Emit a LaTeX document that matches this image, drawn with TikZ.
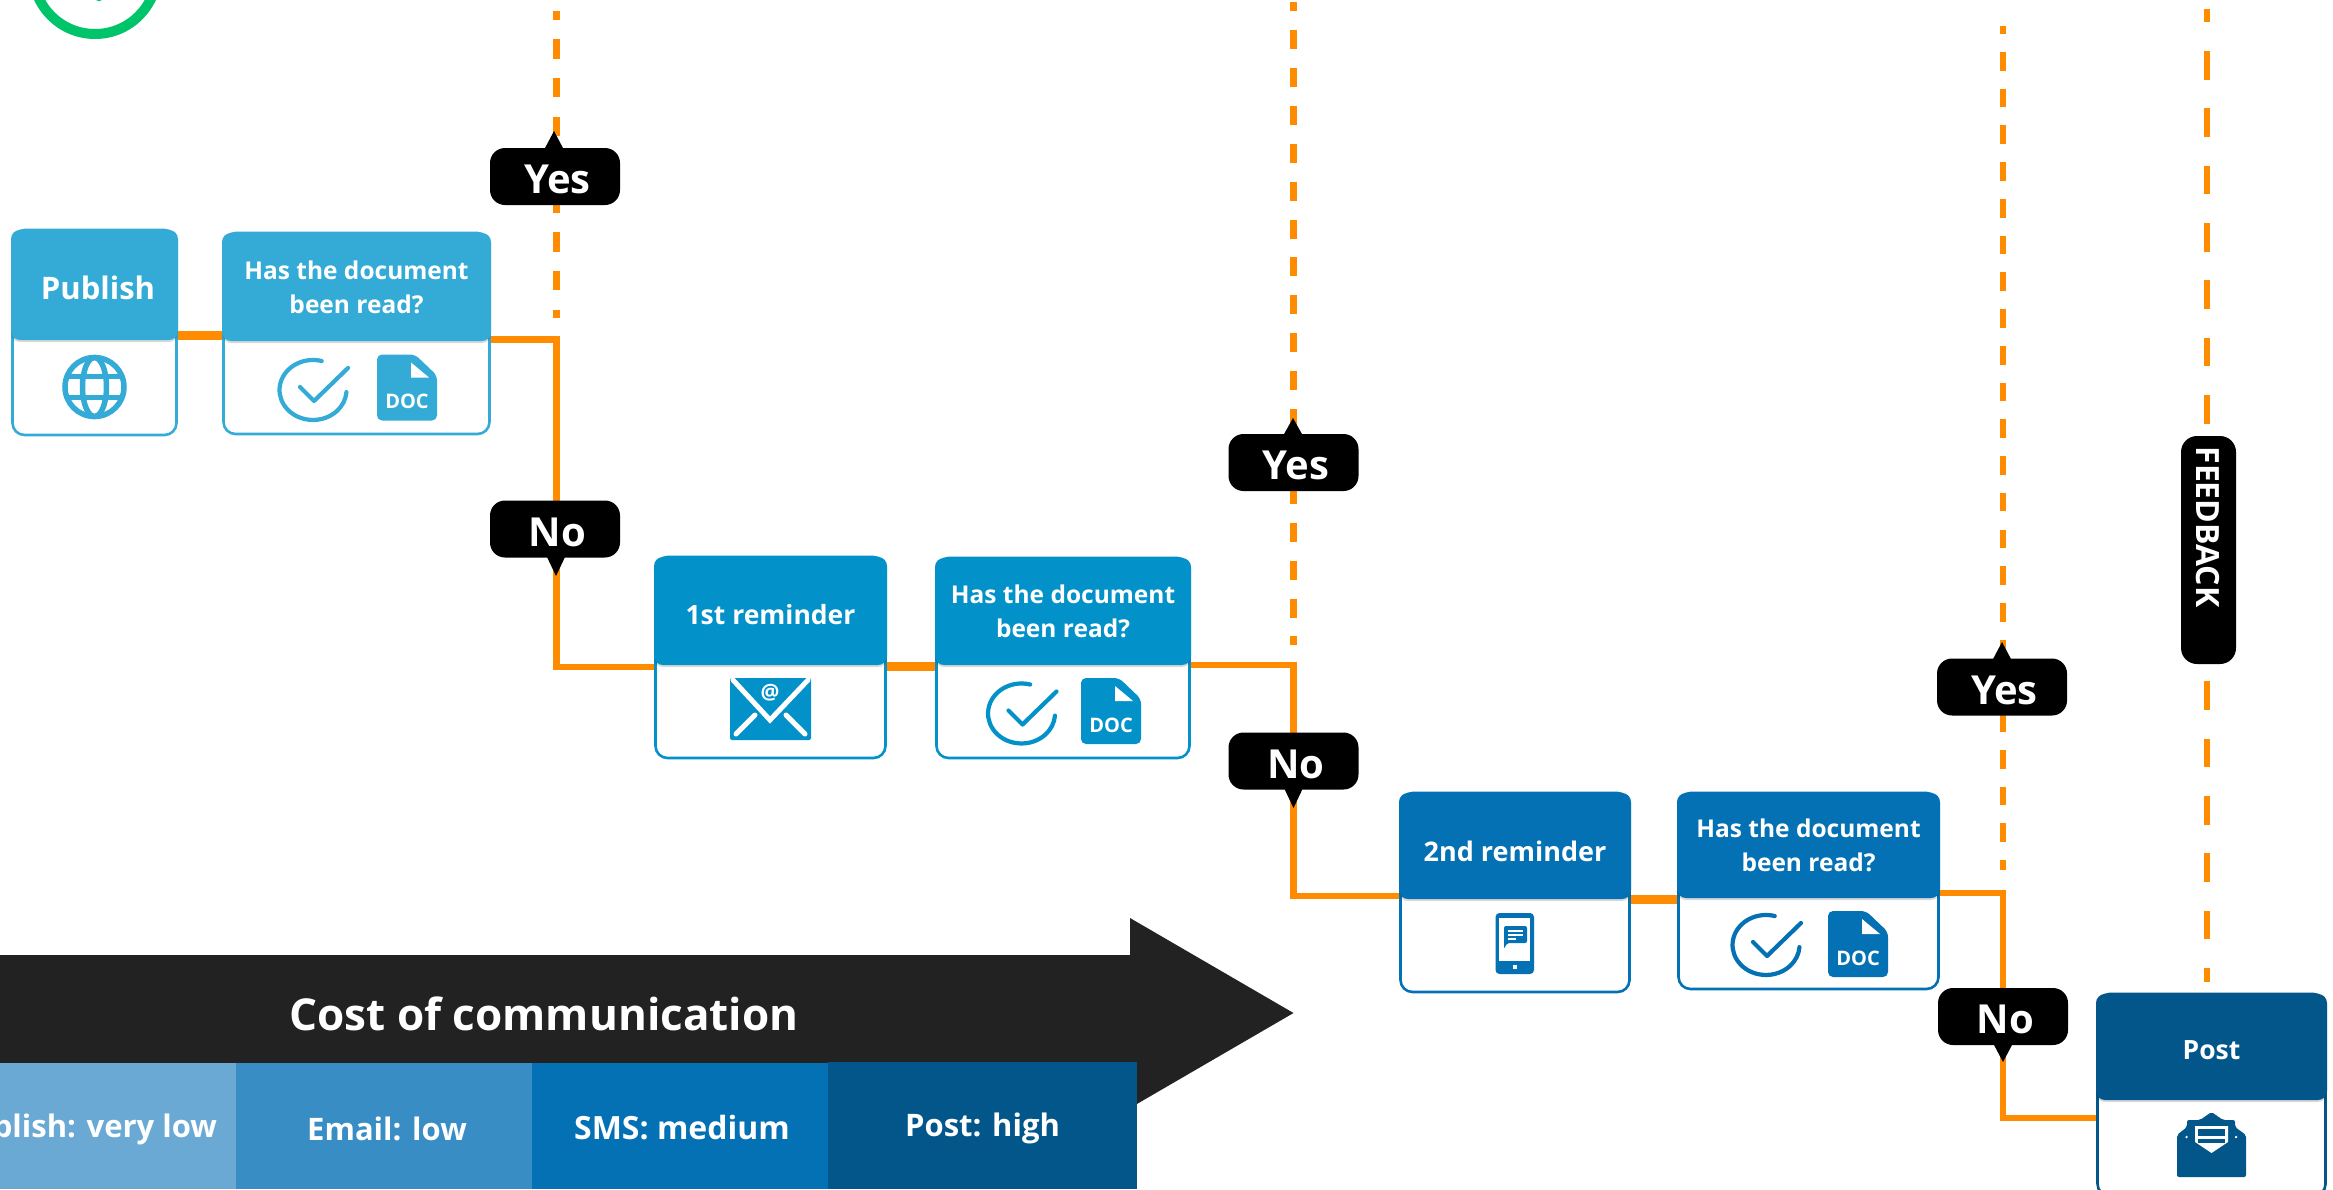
\documentclass[tikz,border=0pt]{standalone}
\usepackage{fontspec}
\setmainfont{Open Sans}
\usetikzlibrary{shadows,backgrounds}
\definecolor{cPub}{HTML}{34ABD7}
\definecolor{cFst}{HTML}{0391C9}
\definecolor{cSnd}{HTML}{0471B4}
\definecolor{cPost}{HTML}{03568A}
\definecolor{cOrange}{HTML}{FF8C00}
\definecolor{cDark}{HTML}{222222}
\definecolor{cGreen}{HTML}{00C46A}
\definecolor{cBarA}{HTML}{6BA9D5}
\definecolor{cBarB}{HTML}{378DC4}
\tikzset{
  bodybox/.style={rectangle,rounded corners=12pt,fill=white,line width=2.6pt,inner sep=0pt,outer sep=0pt},
  headbox/.style={rectangle,rounded corners=9pt,inner sep=0pt,outer sep=0pt,text=white,align=center,
    drop shadow={shadow xshift=0pt,shadow yshift=-2pt,opacity=.15,fill=black}},
  tagbox/.style={rectangle,rounded corners=15pt,fill=black,text=white,inner sep=0pt,outer sep=0pt,
    minimum width=130pt,minimum height=57pt,font=\fontsize{40}{46}\selectfont\bfseries},
  barbox/.style={rectangle,inner sep=0pt,outer sep=0pt,text=white,font=\fontsize{31}{38}\selectfont\bfseries},
  link/.style={draw=cOrange,line width=6.8pt},
  thicklink/.style={draw=cOrange,line width=9pt},
  dashA/.style={draw=cOrange,line width=7pt,dash pattern=on 19.2pt off 19.4pt,dash phase=10.3pt},
  dashB/.style={draw=cOrange,line width=7pt,dash pattern=on 19pt off 18.9pt,dash phase=9.9pt},
  dashC/.style={draw=cOrange,line width=6.5pt,dash pattern=on 18.7pt off 18.03pt,dash phase=10.7pt},
  dashD/.style={draw=cOrange,line width=6.5pt,dash pattern=on 28.7pt off 28.6pt,dash phase=15.3pt},
}
% name, x0, y0, yh, x1, y1, colour, font size, text
\newcommand{\stagebox}[9]{%
  \node[bodybox,draw=#7,minimum width={(#5-#2-3)*1pt},minimum height={(#6-#3)*1pt}] (#1b) at ({(#2+#5)/2},{(#3+#6)/2}) {};
  \node[headbox,fill=#7,minimum width={(#5-#2)*1pt},minimum height={(#4-#3)*1pt},font=\fontsize{#8}{34}\selectfont\bfseries] (#1) at ({(#2+#5)/2},{(#3+#4)/2}) {#9};
}
\newcommand{\ringicon}[3]{%
  \begin{scope}[shift={(#1,#2)}]
    \draw[#3,line width=4.2pt,line cap=round] (8.7,-29) arc[start angle=75,end angle=356,x radius=33.5pt,y radius=30pt];
    \draw[#3,line width=4.2pt,line cap=round,line join=round] (-13,-3) -- (1,11) -- (35,-22);
  \end{scope}}
\newcommand{\docicon}[4]{%
  \begin{scope}[shift={(#2,#3)}]
    \fill[#4,rounded corners=5pt] (0,0) -- (38,0) -- (60,21) -- (60,66) -- (0,66) -- cycle;
    \fill[white] (34,8) -- (34,23) -- (52,23) -- cycle;
    \node[text=white,inner sep=0pt,font=\fontsize{20}{22}\selectfont\bfseries] (#1) at (30,47) {DOC};
  \end{scope}}
% apex x, apex y, base y
\newcommand{\pointer}[3]{\fill[black] (#1-9.5,#3) -- (#1,#2) -- (#1+9.5,#3) -- cycle;}
\newcommand{\dropby}[2]{\raisebox{-#1}[\height][\depth]{#2}}
\newcommand{\tagtext}[1]{\dropby{3pt}{\hspace*{5pt}#1}}
\begin{document}
\begin{tikzpicture}[x=1pt,y=-1pt]
\useasboundingbox (0,0) rectangle (2333,1189);
\clip (0,0) rectangle (2333,1189);

% green ring
\draw[cGreen,line width=10pt] (95,-28) circle[radius=62pt];
\fill[cGreen] (96,0) -- (99,1.2) -- (102,0) -- cycle;

% arrow and bars
\fill[cDark] (-5,955) -- (1130,955) -- (1130,918) -- (1293.5,1013) -- (1130,1108) -- (-5,1108) -- cycle;
\node[text=white,inner sep=0pt,font=\fontsize{44}{52}\selectfont\bfseries] (costlabel) at (544,1014) {Cost of communication};
\node[barbox,fill=cBarA,minimum width=296pt,minimum height=126pt] (barpub) at (88,1126) {\dropby{3pt}{Publish: very low\hspace*{6pt}}};
\node[barbox,fill=cBarB,minimum width=296pt,minimum height=126pt] (baremail) at (384,1126) {\dropby{3pt}{\hspace*{6pt}Email: low}};
\node[barbox,fill=cSnd,minimum width=296pt,minimum height=126pt] (barsms) at (680,1126) {\dropby{1.5pt}{\hspace*{4pt}\fontsize{32}{38}\selectfont SMS: medium}};
\node[barbox,fill=cPost,minimum width=309pt,minimum height=127pt] (barpost) at (982.5,1125.5) {\dropby{3pt}{Post: high}};

% stage boxes
\stagebox{pub}{11}{230}{340}{178}{435}{cPub}{31}{\dropby{3pt}{\hspace*{7pt}Publish}}
\stagebox{hasA}{222}{233}{341}{491}{434}{cPub}{24.5}{Has the document\\been read?}
\stagebox{rem}{654}{557}{665}{887}{758}{cFst}{26.5}{\dropby{4pt}{1st reminder}}
\stagebox{hasB}{935}{558}{665}{1191}{758}{cFst}{24.5}{Has the document\\been read?}
\stagebox{sms}{1399}{793}{899}{1631}{992}{cSnd}{27}{\dropby{5pt}{2nd reminder}}
\stagebox{hasC}{1677}{793}{898}{1940}{989}{cSnd}{24.5}{Has the document\\been read?}
\stagebox{post}{2096}{994}{1100}{2327}{1196}{cPost}{26.5}{\dropby{3pt}{Post}}

% junctions and free ends
\coordinate (jA) at (556.5,339.5);
\coordinate (jB) at (556.5,667);
\coordinate (jC) at (1293.5,665);
\coordinate (jD) at (1293.5,896);
\coordinate (jE) at (2003,893);
\coordinate (jF) at (2003,1118);
\coordinate (topA) at (556.5,11);
\coordinate (endA) at (556.5,318);
\coordinate (topB) at (1293.5,2);
\coordinate (endB) at (1293.5,645);
\coordinate (topC) at (2003,26);
\coordinate (endC) at (2003,870);
\coordinate (topD) at (2207,9);
\coordinate (endD) at (2207,982);

\begin{scope}[on background layer]
  \draw[thicklink] ([yshift=5pt]pub.south east) -- ([yshift=5pt]pub.south east -| hasA.west);
  \draw[link] (hasA.east |- jA) -- (jA) -- (jB) -- (rem.west |- jB);
  \draw[thicklink] ([yshift=-1pt]rem.south east) -- ([yshift=-1pt]hasB.south west);
  \draw[link] (hasB.south east) -- (jC) -- (jD) -- (sms.west |- jD);
  \draw[thicklink] (sms.south east) -- (sms.south east -| hasC.west);
  \draw[link] (hasC.east |- jE) -- (jE) -- (jF) -- (postb.west |- jF);
  \draw[dashA] (topA) -- (endA);
  \draw[dashB] (topB) -- (endB);
  \draw[dashC] (topC) -- (endC);
  \draw[dashD] (topD) -- (endD);
\end{scope}

% tags
\node[tagbox] (yesA) at (555,176.5) {\tagtext{Yes}};
\pointer{554}{131}{149}
\node[tagbox] (noA) at (555,529) {\tagtext{No}};
\pointer{556}{576}{556}
\node[tagbox] (yesB) at (1293.5,462.5) {\tagtext{Yes}};
\pointer{1293}{418}{435}
\node[tagbox] (noB) at (1293.5,761) {\tagtext{No}};
\pointer{1293.5}{808}{788}
\node[tagbox] (yesC) at (2002,687) {\tagtext{Yes}};
\pointer{2002}{642}{660}
\node[tagbox] (noC) at (2003,1016.5) {\tagtext{No}};
\pointer{2003}{1062}{1044}

% feedback tag
\node[rectangle,rounded corners=16pt,fill=black,inner sep=0pt,outer sep=0pt,minimum width=55pt,minimum height=228pt] (fbbox) at (2208.5,550) {};
\node[rotate=-90,text=white,inner sep=0pt,font=\fontsize{32}{36}\selectfont\bfseries] (fbtext) at (2208,527) {FEEDBACK};

% icons
% globe
\draw[cPub,line width=5.5pt] (94.5,387) circle[radius=29.5pt];
\draw[cPub,line width=5.5pt] (94.5,387) circle[x radius=12pt,y radius=29.5pt];
\draw[cPub,line width=5.5pt] (66,376.5) -- (123,376.5) (66,397.5) -- (123,397.5);
\ringicon{313}{390}{cPub}
\docicon{docA}{377}{354.5}{cPub}
\ringicon{1021.5}{713.5}{cFst}
\docicon{docB}{1081}{678}{cFst}
\ringicon{1766}{945}{cSnd}
\docicon{docC}{1828}{911}{cSnd}
% mail
\fill[cFst,rounded corners=2pt] (730,678) rectangle (811,740);
\draw[white,line width=5pt,line cap=round,line join=miter] (733,680) -- (770,720) -- (808,680);
\draw[white,line width=5pt,line cap=round] (736,734) -- (755,715) (805,734) -- (786,715);
\node[text=white,inner sep=0pt,font=\fontsize{21}{22}\selectfont\bfseries] (atsign) at (770,693) {@};
% phone
\fill[cSnd,rounded corners=4pt] (1495.5,913) rectangle (1534,974);
\fill[white] (1499,918) rectangle (1530,961);
\fill[white] (1513,965) rectangle (1517,969);
\fill[cSnd,rounded corners=2pt] (1504,926) -- (1527,926) -- (1527,943) -- (1507,943) -- (1504,949) -- cycle;
\draw[white,line width=1.4pt] (1508,931) -- (1523,931) (1508,935) -- (1523,935) (1508,939) -- (1516,939);
% post envelope
\fill[cPost,rounded corners=2pt] (2177,1135) -- (2187,1127) -- (2187,1120) -- (2200,1120) -- (2211.5,1112) -- (2223,1120) -- (2235,1120) -- (2235,1127) -- (2246,1135) -- (2246,1177) -- (2177,1177) -- cycle;
\fill[white] (2195,1126) -- (2228,1126) -- (2228,1142) -- (2211.5,1153) -- (2195,1142) -- cycle;
\fill[cPost] (2198,1129) rectangle (2225,1135.5);
\fill[cPost] (2198,1138.5) rectangle (2225,1143);
\fill[white] (2186.5,1137) circle[radius=1.3pt] (2236,1137) circle[radius=1.3pt];
\end{tikzpicture}
\end{document}
